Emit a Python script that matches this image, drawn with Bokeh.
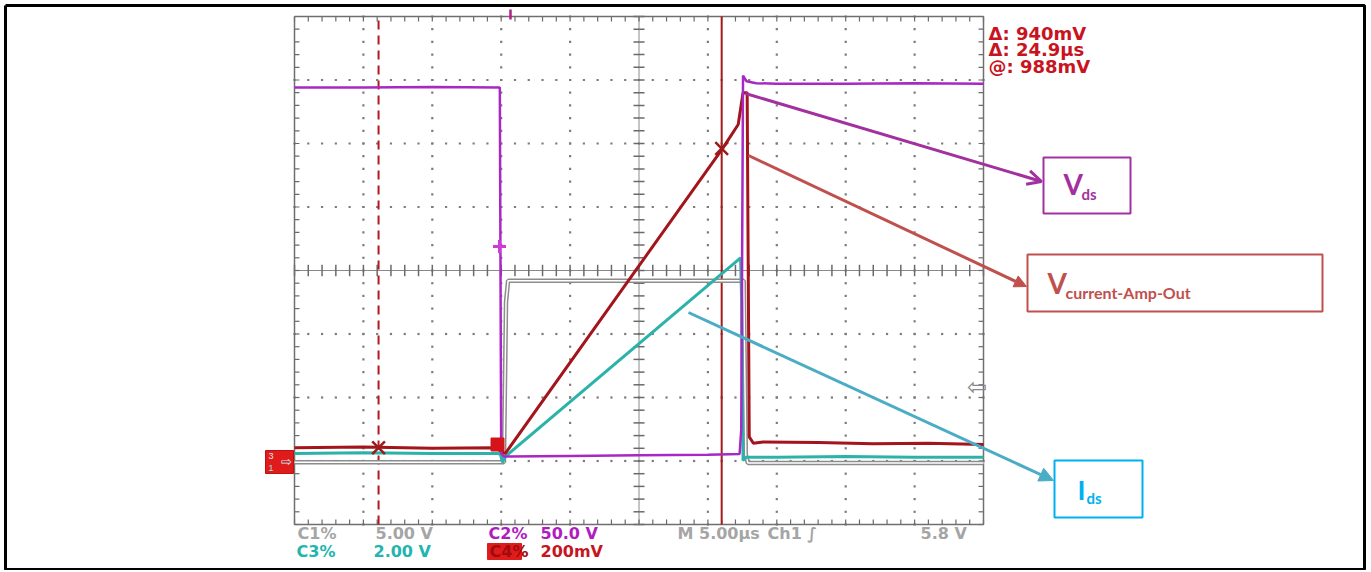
import numpy as np
from bokeh.plotting import figure
from bokeh.models import Range1d, Label, BoxAnnotation, Arrow, OpenHead, NormalHead
from bokeh.embed import file_html
from bokeh.resources import INLINE

# ---------------- data (time in µs, 5 µs/div; vertical in divisions) ----------------
c2_vds_t = [0, 5, 10, 14.9, 15.0, 15.2, 20, 25, 30, 32.3, 32.42, 32.55, 32.8, 33.5, 35, 40, 45, 50]
c2_vds_y = [2.88, 2.88, 2.89, 2.88, -2.88, -2.93, -2.92, -2.91, -2.90, -2.89, -2.5, 3.07, 2.98, 2.95, 2.94, 2.94, 2.95, 2.94]

c4_amp_t = [0, 5, 10, 14.6, 15.0, 15.3, 31.06, 32.2, 32.55, 32.85, 33.0, 33.3, 34, 38, 42, 46, 50]
c4_amp_y = [-2.79, -2.78, -2.80, -2.79, -2.85, -2.88, 1.92, 2.30, 2.80, 2.80, -2.62, -2.72, -2.70, -2.71, -2.73, -2.72, -2.74]

c3_ids_t = [0, 5, 10, 14.8, 14.95, 15.1, 15.3, 32.37, 32.45, 32.55, 32.8, 35, 40, 45, 50]
c3_ids_y = [-2.88, -2.87, -2.88, -2.88, -2.90, -3.02, -2.93, 0.20, -0.5, -2.99, -2.94, -2.94, -2.93, -2.94, -2.94]

c1_t = [0, 10, 15.2, 15.35, 15.5, 32.6, 32.75, 32.9, 40, 50]
c1_y = [-3.02, -3.02, -3.02, -0.5, -0.16, -0.16, -2.9, -3.03, -3.03, -3.03]

cursor_t = [6.1, 31.0]
cursor_y = [-2.79, 1.92]

readouts = ["Δ: 940mV", "Δ: 24.9µs", "@: 988mV"]
scale_row1 = ["C1%", "5.00 V", "C2%", "50.0 V", "M 5.00µs", "Ch1 ∫", "5.8 V"]
scale_row2 = ["C3%", "2.00 V", "C4%", "200mV"]

# ---------------- page geometry (reference pixels -> data) ----------------
W, H = 1366, 570


def X(px):
    return (px - 294) / 68.9 * 5


def Y(py):
    return (270 - py) / 63.5


def label(px, py, text, size, color, font="DejaVu Sans"):
    # py is the intended baseline in picture pixels; compensate the svg text offset
    p.add_layout(Label(x=X(px), y=Y(py - 0.4 * size), text=text, text_font=font, text_font_style="bold",
                       text_font_size=f"{size}px", text_color=color, text_baseline="alphabetic"))


p = figure(width=W, height=H, x_range=Range1d(X(0), X(W)), y_range=Range1d(Y(H), Y(0)),
           output_backend="svg", toolbar_location=None, x_axis_location=None, y_axis_location=None,
           min_border=0, outline_line_color=None, background_fill_color="white")
p.grid.visible = False

# outer black frame of the picture
p.line([X(5), X(1364), X(1364), X(5), X(5)], [Y(5), Y(5), Y(569), Y(569), Y(5)], line_color="black", line_width=3)

GRID = "#7c7c7c"
# graticule dots
gx, gy = [], []
for k in range(1, 10):
    if k == 5:
        continue
    for j in np.arange(-4, 4.001, 0.2):
        gx.append(k * 5); gy.append(j)
for j in range(-3, 4):
    if j == 0:
        continue
    for i in np.arange(0, 50.001, 1.0):
        gx.append(i); gy.append(j)
p.scatter(gx, gy, marker="square", size=2.2, color=GRID, line_width=0)

# center axes with ticks
p.line([0, 50], [0, 0], line_color="#8a8a8a", line_width=1)
p.line([25, 25], [-4, 4], line_color="#8a8a8a", line_width=1)
tx = list(np.arange(0, 50.001, 1.0))
p.segment(tx, [-0.09] * len(tx), tx, [0.09] * len(tx), line_color="#6a6a6a", line_width=1.5)
ty = list(np.arange(-4, 4.001, 0.2))
p.segment([24.6] * len(ty), ty, [25.4] * len(ty), ty, line_color="#6a6a6a", line_width=1.5)
# frame ticks
p.segment(tx, [4] * len(tx), tx, [3.92] * len(tx), line_color="#6a6a6a", line_width=1.2)
p.segment(tx, [-4] * len(tx), tx, [-3.92] * len(tx), line_color="#6a6a6a", line_width=1.2)
p.segment([0] * len(ty), ty, [0.36] * len(ty), ty, line_color="#6a6a6a", line_width=1.2)
p.segment([50] * len(ty), ty, [49.64] * len(ty), ty, line_color="#6a6a6a", line_width=1.2)
p.line([0, 50, 50, 0, 0], [4, 4, -4, -4, 4], line_color="#6f6f6f", line_width=1.5)

# cursors
p.line([cursor_t[0]] * 2, [-4, 4], line_color="#b5171f", line_width=2, line_dash="9 6")
p.line([cursor_t[1]] * 2, [-4, 4], line_color="#a51a1a", line_width=2)

# trigger position marker at the top edge
p.line([X(510)] * 2, [Y(9), Y(19)], line_color="#b0208a", line_width=2.5)

# traces
p.line(c1_t, c1_y, line_color="#8c8c8c", line_width=4.5)
p.line(c1_t, c1_y, line_color="white", line_width=1.5)
p.line(c3_ids_t, c3_ids_y, line_color="#2cb3a9", line_width=3)
p.line(c4_amp_t, c4_amp_y, line_color="#a3141b", line_width=3)
p.line(c2_vds_t, c2_vds_y, line_color="#a828c4", line_width=2.5)

# cursor crossings
p.scatter(cursor_t, cursor_y, marker="x", size=18, line_color="#9b1a1a", line_width=2.5)

# small scope markers
p.scatter([X(497)], [Y(444)], marker="square", size=13, color="#d4141a")
p.scatter([X(499)], [Y(246)], marker="cross", size=13, line_color="#d23ad8", line_width=3)
p.quad(left=[X(265)], right=[X(293)], bottom=[Y(473)], top=[Y(450)], fill_color="#e01b1b", line_color="#c01010")
p.text([X(268)], [Y(455)], text=["3"], text_font_size="9px", text_color="#e8e8e8", text_baseline="middle")
p.text([X(268)], [Y(467)], text=["1"], text_font_size="9px", text_color="#8fe0e0", text_baseline="middle")
p.text([X(280)], [Y(461)], text=["⇨"], text_font_size="13px", text_color="#bff0ff", text_baseline="middle")
p.text([X(966)], [Y(386)], text=["⇦"], text_font_size="24px", text_color="#8a8a8a", text_baseline="middle")

# readouts
for i, s in enumerate(readouts):
    label(988, 40 + 16.5 * i, s, 18, "#c8141e")

# scale rows
row1_x = [297, 375, 488, 540, 677, 767, 920]
row1_c = ["#a5a5a5", "#a5a5a5", "#b01cc0", "#b01cc0", "#a5a5a5", "#a5a5a5", "#a5a5a5"]
for s, xx, c in zip(scale_row1, row1_x, row1_c):
    label(xx, 539, s, 16, c)
p.quad(left=[X(487)], right=[X(521)], bottom=[Y(559)], top=[Y(543)], fill_color="#e01b1b", line_color="#e01b1b")
row2_x = [296, 373, 489, 540]
row2_c = ["#22b5b0", "#22b5b0", "#a00c0c", "#c8141e"]
for s, xx, c in zip(scale_row2, row2_x, row2_c):
    label(xx, 557, s, 16, c)

# annotation arrows
PUR, RED, BLU, CYN = "#a3309f", "#c0504d", "#4bacc6", "#00b0f0"
p.add_layout(Arrow(x_start=X(745), y_start=Y(93), x_end=X(1041), y_end=Y(181), line_color=PUR, line_width=3,
                   end=OpenHead(line_color=PUR, line_width=3, size=14)))
p.add_layout(Arrow(x_start=X(748), y_start=Y(155), x_end=X(1026), y_end=Y(286), line_color=RED, line_width=3,
                   end=NormalHead(fill_color=RED, line_color=RED, size=12)))
p.add_layout(Arrow(x_start=X(688), y_start=Y(312), x_end=X(1053), y_end=Y(480), line_color=BLU, line_width=3,
                   end=NormalHead(fill_color=BLU, line_color=BLU, size=14)))

# annotation boxes
for l, r, t, b, c in [(1043, 1130, 157, 213, PUR), (1027, 1322, 254, 311, RED), (1054, 1142, 460, 517, CYN)]:
    p.add_layout(BoxAnnotation(left=X(l), right=X(r), top=Y(t), bottom=Y(b), fill_color="white", fill_alpha=1,
                               line_color=c, line_width=2, line_alpha=1))

for (bx, by, big, sx, sy, small, c, bs, ss) in [
        (1063, 195, "V", 1081, 199, "ds", PUR, 28, 15),
        (1047, 294, "V", 1065, 298, "current-Amp-Out", RED, 28, 16),
        (1077, 500, "I", 1086, 503, "ds", CYN, 27, 15)]:
    label(bx, by, big, bs, c, font="Lato")
    label(sx, sy, small, ss, c, font="Lato")

open("out.html", "w").write(file_html(p, INLINE))
